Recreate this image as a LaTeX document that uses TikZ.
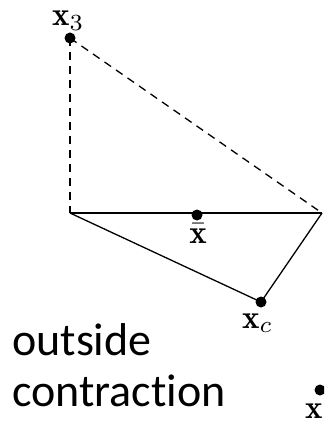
\documentclass[tikz,border=0pt]{standalone}
\usepackage{fontspec}
\newfontfamily\calib[Ligatures=NoCommon]{Carlito}
\newcommand{\mylabel}[1]{\scalebox{3.3}{$#1$}}
\tikzset{
  pt/.style={circle,fill=black,inner sep=0pt,minimum size=11pt},
  edge/.style={line width=1.3pt},
  dashedge/.style={line width=1.3pt,dash pattern=on 8pt off 6pt},
  lbl/.style={inner sep=0pt},
  txt/.style={inner sep=0pt,anchor=base west,font=\calib\fontsize{46}{52}\selectfont}
}
\begin{document}
\begin{tikzpicture}[x=1pt,y=-1pt]
\useasboundingbox (0,0) rectangle (324,422);
\clip (0,0) rectangle (324,422);
\coordinate (L) at (70,213);
\coordinate (R) at (322,213);
\node[pt] (x3) at (70,38) {};
\node[pt] (xb) at (197,215) {};
\node[pt] (xc) at (261,302) {};
\node[pt] (xr) at (320,390) {};
\draw[dashedge] (x3.center) -- (L);
\draw[dashedge] (x3.center) -- (R);
\draw[edge] (L) -- (R);
\draw[edge] (L) -- (xc.center) -- (R);
\node[lbl,anchor=base west] (l3) at (52,26) {\mylabel{\mathbf{x}_3}};
\node[lbl,anchor=base] (lb) at (198,243) {\mylabel{\bar{\mathbf{x}}}};
\node[lbl,anchor=base west] (lc) at (242,328) {\mylabel{\mathbf{x}_c}};
\node[lbl,anchor=base west] (lr) at (305,418) {\mylabel{\mathbf{x}}};
\node[txt] (t1) at (12,355) {outside};
\node[txt] (t2) at (12,406) {contraction};
\end{tikzpicture}
\end{document}
